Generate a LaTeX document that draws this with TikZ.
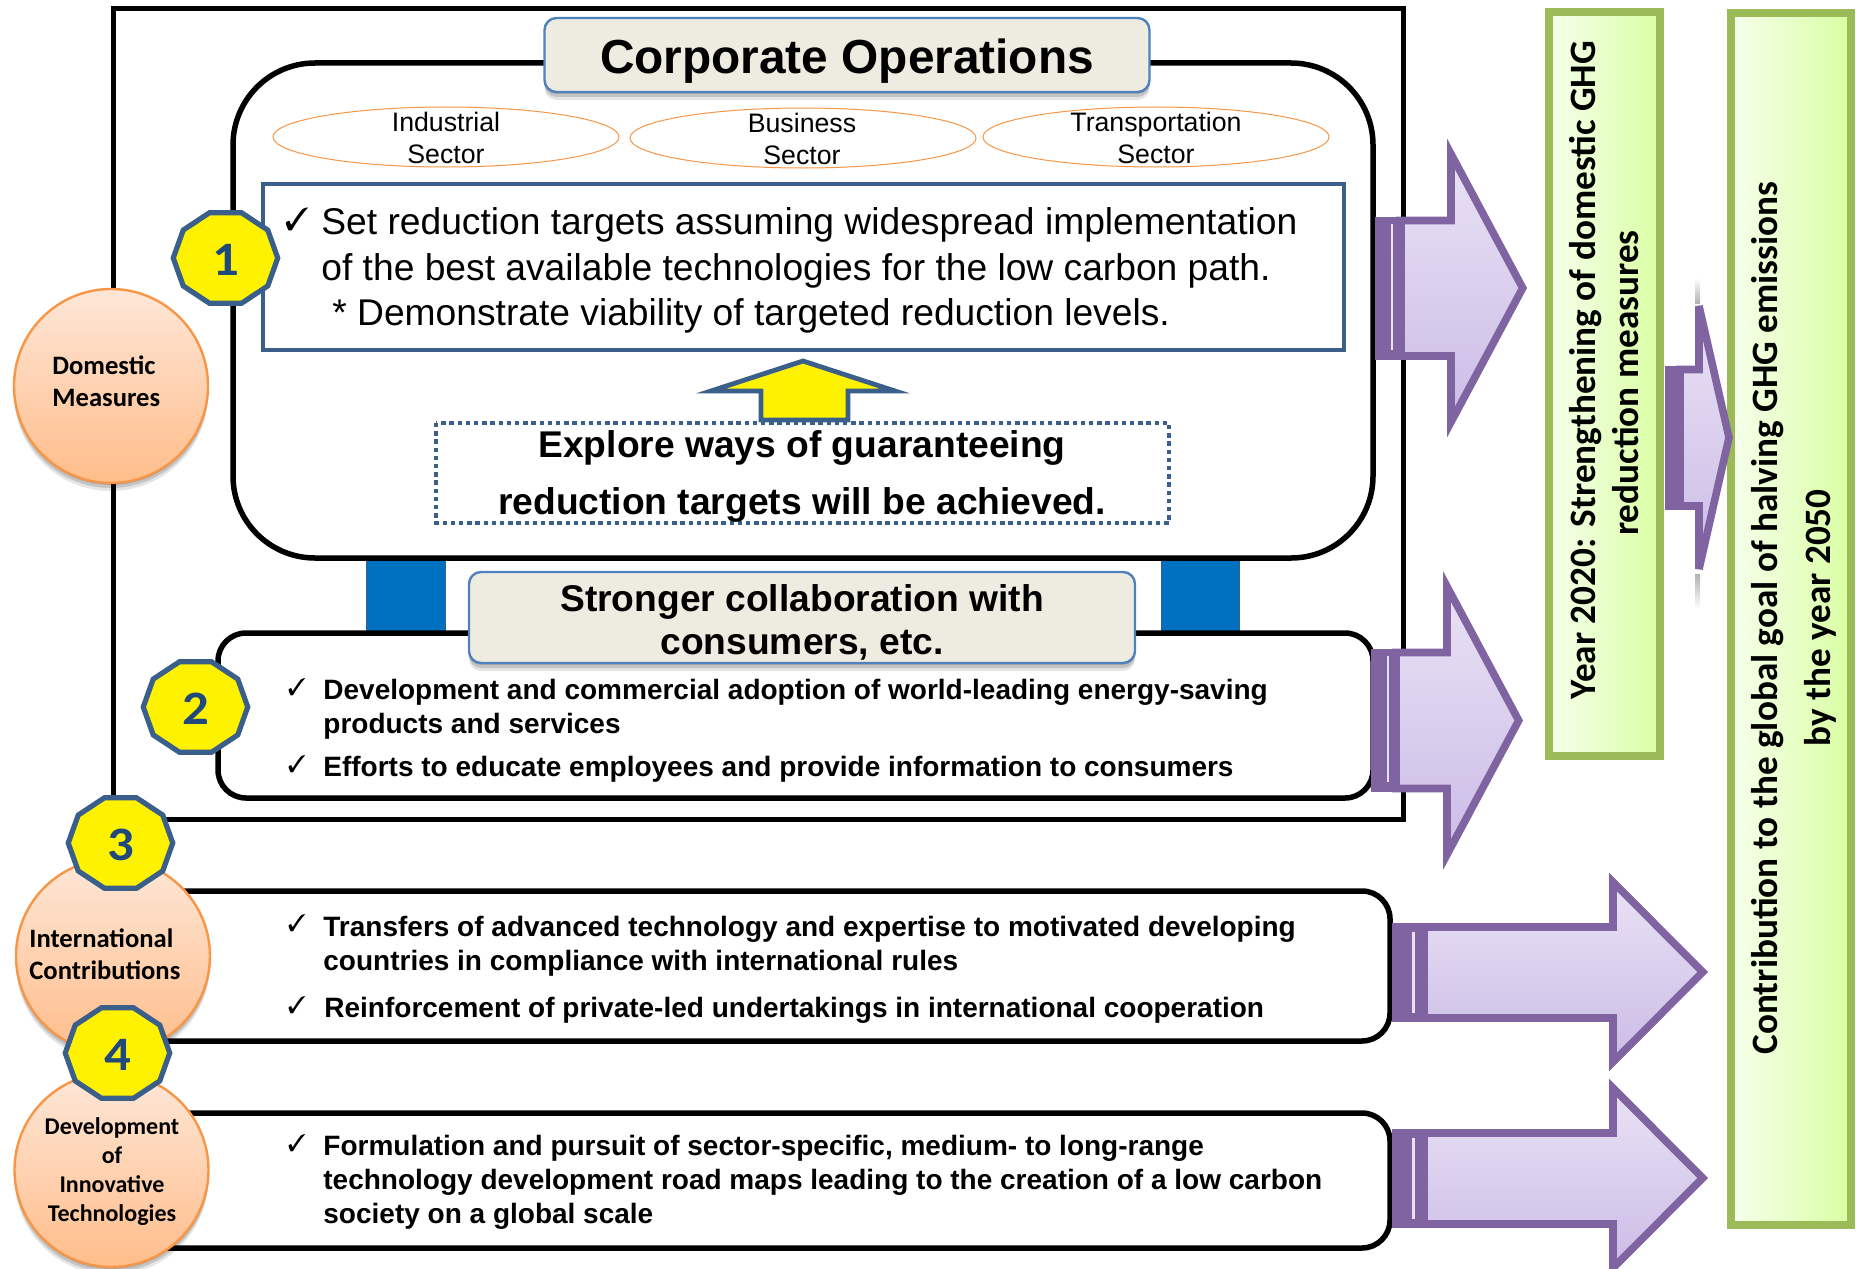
\documentclass[tikz,border=0pt]{standalone}
\usepackage{pifont}
\usepackage{fontspec}
\setmainfont{Liberation Sans}
\newfontfamily\calibrifont{Carlito}
\usetikzlibrary{shapes.geometric,shapes.misc,shadows}

\definecolor{framecol}{HTML}{3A5F8B}
\definecolor{titlefill}{HTML}{EEECE1}
\definecolor{titleedge}{HTML}{4F81BD}
\definecolor{sphereedge}{HTML}{F79646}
\definecolor{spheretop}{HTML}{FEE7D8}
\definecolor{spherebot}{HTML}{FFBD8A}
\definecolor{purpleedge}{HTML}{8064A2}
\definecolor{leafedge}{HTML}{9BBB59}
\definecolor{digitcol}{HTML}{1F497D}
\definecolor{pillarcol}{HTML}{0070C0}
\definecolor{arrowtop}{HTML}{E9E2F5}
\definecolor{arrowbot}{HTML}{CBBCE6}
\definecolor{leafleft}{HTML}{F6FFEC}
\definecolor{leafright}{HTML}{D9FFA3}

\tikzset{
    softshadow/.style={
        drop shadow={shadow xshift=0pt, shadow yshift=-1pt, opacity=.14, fill=black},
        drop shadow={shadow xshift=0pt, shadow yshift=-2.5pt, opacity=.14, fill=black},
        drop shadow={shadow xshift=0pt, shadow yshift=-4pt, opacity=.1, fill=black}},
    heavyline/.style={line width=2.75pt, draw=black},
    titlebox/.style={draw=titleedge, fill=titlefill, line width=1.2pt, rounded corners=6pt,
        rectangle, inner sep=0pt, softshadow, font=\fontsize{23.9}{27}\selectfont\bfseries},
    sectorring/.style={ellipse, draw=sphereedge, line width=.5pt, minimum width=173pt, minimum height=30pt, inner sep=0pt},
    sectortext/.style={align=center, inner sep=0pt, font=\fontsize{13.35}{16}\selectfont},
    sphere/.style={circle, draw=sphereedge, line width=1.2pt, minimum size=97pt, inner sep=0pt,
        top color=spheretop, bottom color=spherebot, softshadow},
    spheretext/.style={inner sep=0pt, font=\fontsize{13.3}{16}\selectfont\calibrifont\bfseries},
    badge/.style={regular polygon, regular polygon sides=10, minimum size=47.5pt, inner sep=0pt,
        draw=framecol, fill=yellow, line width=2.6pt, xscale=1.1, transform shape, text=digitcol,
        text height=17pt, text depth=0pt, font=\fontsize{24}{24}\selectfont\calibrifont\bfseries},
    bodytext/.style={anchor=base west, align=left, inner sep=0pt, font=\fontsize{14}{17}\selectfont\bfseries},
    tick/.style={inner sep=0pt, font=\fontsize{12}{12}\selectfont},
    blockarrow/.style={draw=purpleedge, line width=3.8pt, miter limit=10,
        top color=arrowtop, bottom color=arrowbot, drop shadow={shadow xshift=0pt, shadow yshift=-1.2pt, opacity=.22, fill=black}},
    arrowband/.style={fill=purpleedge},
    arrowgap/.style={fill=arrowtop},
    leafbox/.style={draw=leafedge, line width=4.2pt, left color=leafleft, right color=leafright,
        drop shadow={shadow xshift=0pt, shadow yshift=-1pt, opacity=.3, fill=black}},
    leaftext/.style={rotate=90, anchor=base, inner sep=0pt, font=\fontsize{18.6}{18.6}\selectfont\calibrifont\bfseries}
}

\begin{document}
\begin{tikzpicture}[x=.5pt, y=-.5pt]
    \useasboundingbox (0,0) rectangle (1856,1268);

    % frame and sector box
    \draw [line width=2.5pt] (113,9) rectangle (1403,819);
    \fill [pillarcol] (366,558) rectangle (445,632);
    \fill [pillarcol] (1161,558) rectangle (1239,632);
    \draw [draw=framecol, line width=.5pt] (445,558) -- (445,632);
    \draw [draw=framecol, line width=.5pt] (1161,558) -- (1161,632);
    \draw [draw=framecol, line width=.5pt] (366,558) -- (366,632);
    \draw [draw=framecol, line width=.5pt] (1239,558) -- (1239,632);
    \draw [heavyline, fill=white, rounded corners=41pt] (233,63) rectangle (1373,558);

    \node (corporate) [titlebox, minimum width=302.5pt, minimum height=37pt] at (847,55) {\rule{0pt}{23.5pt}Corporate Operations};

    \node (industrial) [sectorring] at (446,137) {};
    \node (business) [sectorring] at (803,138) {};
    \node (transport) [sectorring] at (1156,137) {};
    \node (industrialtext) [sectortext, anchor=base] at (446,163) {Industrial\\Sector};
    \node (businesstext) [sectortext, anchor=base] at (802,164) {Business\\Sector};
    \node (transporttext) [sectortext, anchor=base] at (1156,163) {Transportation\\Sector};

    \draw [draw=framecol, line width=2.4pt, fill=white] (263,184) rectangle (1344,350);
    \node (tick1) [tick, font=\fontsize{16}{16}\selectfont] at (297,219) {\ding{51}};
    \node (targets) [anchor=base west, align=left, inner sep=0pt, font=\fontsize{18.6}{22.75}\selectfont] at (321,325.5)
        {Set reduction targets assuming widespread implementation\\of the best available technologies for the low carbon path.\\\hspace*{5.5pt}* Demonstrate viability of targeted reduction levels.};

    % guarantee
    \draw [draw=framecol, line width=2.4pt, fill=yellow, miter limit=10] (761,420) -- (761,391) -- (711,391) -- (803,361) -- (895,391) -- (848,391) -- (848,420) -- cycle;
    \draw [draw=framecol, line width=2.4pt, dash pattern=on 2.2pt off 1.9pt] (436,423) rectangle (1169,523);
    \node (explore) [align=center, anchor=base, inner sep=0pt, font=\fontsize{18.6}{28.5}\selectfont\bfseries] at (802,514)
        {Explore ways of guaranteeing\\reduction targets will be achieved.};

    % consumer box
    \draw [heavyline, fill=white, rounded corners=14pt] (218,633) rectangle (1373,798);
    \node (stronger) [titlebox, align=center, minimum width=333pt, minimum height=45.5pt, font=\fontsize{18.6}{21.5}\selectfont\bfseries] at (802,617.5)
        {\rule{0pt}{18.5pt}Stronger collaboration with\\consumers, etc.};
    \node (tick2a) [tick] at (297,687) {\ding{51}};
    \node (tick2b) [tick] at (297,764) {\ding{51}};
    \node (adoption) [bodytext] at (323,733) {Development and commercial adoption of world-leading energy-saving\\products and services};
    \node (educate) [bodytext] at (323,776) {Efforts to educate employees and provide information to consumers};

    % lower boxes
    \draw [heavyline, fill=white, rounded corners=14pt] (120,891) rectangle (1390,1041);
    \draw [heavyline, fill=white, rounded corners=14pt] (120,1113) rectangle (1390,1248);
    \node (tick3a) [tick] at (297,923) {\ding{51}};
    \node (tick3b) [tick] at (297,1005) {\ding{51}};
    \node (tick4) [tick] at (297,1143) {\ding{51}};
    \node (transfers) [bodytext] at (323,970) {Transfers of advanced technology and expertise to motivated developing\\countries in compliance with international rules};
    \node (reinforce) [bodytext] at (324,1017) {Reinforcement of private-led undertakings in international cooperation};
    \node (roadmaps) [bodytext] at (323,1223) {Formulation and pursuit of sector-specific, medium- to long-range\\technology development road maps leading to the creation of a low carbon\\society on a global scale};

    % spheres
    \node (domestic) [sphere] at (111,386) {};
    \node (intl) [sphere] at (113,956) {};
    \node (devel) [sphere] at (111.5,1170) {};
    \node (domestictext) [spheretext, anchor=base west, align=left] at (52,406) {Domestic\\Measures};
    \node (intltext) [spheretext, anchor=base west, align=left] at (29,979) {International\\Contributions};
    \node (develtext) [spheretext, anchor=base, align=center, font=\fontsize{12}{14.5}\selectfont\calibrifont\bfseries] at (112,1221) {Development\\of\\Innovative\\Technologies};

    \node (one) [badge] at (225.5,258) {1};
    \node (two) [badge] at (195.5,707) {2};
    \node (three) [badge] at (120.5,843) {3};
    \node (four) [badge] at (117.5,1053) {4};

    % arrows
    \draw [blockarrow] (1400,220.5) -- (1451,220.5) -- (1451,154) -- (1522.7,288) -- (1451,422) -- (1451,356) -- (1400,356) -- cycle;
    \fill [arrowband] (1375,217) rectangle (1405,360);
    \fill [arrowgap] (1391.2,224) rectangle (1392.8,350);

    \draw [blockarrow] (1396,652.5) -- (1447,652.5) -- (1447,586.5) -- (1518.7,720.5) -- (1447,854.5) -- (1447,788.5) -- (1396,788.5) -- cycle;
    \fill [arrowband] (1371,649) rectangle (1400,792);
    \fill [arrowgap] (1387.2,656) rectangle (1388.8,782);

    \draw [blockarrow] (1424,927) -- (1613,927) -- (1613,882) -- (1702.7,972) -- (1613,1062) -- (1613,1018) -- (1424,1018) -- cycle;
    \fill [arrowband] (1392,923) rectangle (1428,1022);
    \fill [arrowgap] (1411.5,932) rectangle (1414.5,1013);

    \draw [blockarrow] (1424,1133) -- (1613,1133) -- (1613,1088) -- (1702.7,1178) -- (1613,1268) -- (1613,1224) -- (1424,1224) -- cycle;
    \fill [arrowband] (1392,1129) rectangle (1428,1228);
    \fill [arrowgap] (1411.5,1138) rectangle (1414.5,1219);

    % boxes on the right
    \draw [leafbox] (1549,12) rectangle (1660,756);
    \draw [leafbox] (1731,13) rectangle (1851,1225);
    \node (year1) [leaftext] at (1595,370) {Year 2020: Strengthening of domestic GHG};
    \node (year2) [leaftext] at (1638,383) {reduction measures};
    \node (goal1) [leaftext] at (1777,618) {Contribution to the global goal of halving GHG emissions};
    \node (goal2) [leaftext] at (1830,618) {by the year 2050};

    \shade [top color=white, bottom color=gray!60] (1695,278) rectangle (1700,303);
    \shade [top color=gray!60, bottom color=white] (1695,574) rectangle (1700,609);
    \draw [blockarrow, miter limit=4] (1680,369.5) -- (1699,369.5) -- (1699,306) -- (1729,437.5) -- (1699,569) -- (1699,506) -- (1680,506) -- cycle;
    \fill [arrowband] (1665,366) rectangle (1682,509.5);
\end{tikzpicture}
\end{document}
